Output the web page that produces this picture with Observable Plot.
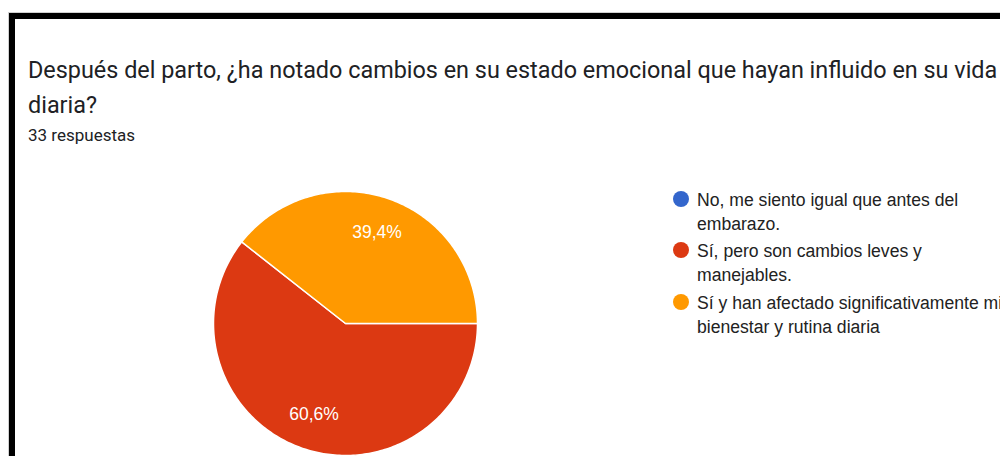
<!DOCTYPE html>
<html>
<head>
<meta charset="utf-8">
<script src="https://cdn.jsdelivr.net/npm/d3@7"></script>
<script src="https://cdn.jsdelivr.net/npm/@observablehq/plot@0.6"></script>
<style>
  html, body { margin: 0; padding: 0; background: #fff; }
  #page { position: relative; width: 1000px; height: 456px; overflow: hidden; background: #fff; }
  #frame { position: absolute; left: 9px; top: 13px; width: 1100px; height: 600px;
           border-left: 6px solid #000; border-top: 6px solid #000; box-shadow: -1px -1px 0 #d0d0d0; }
  .title { position: absolute; left: 28px; font-family: Roboto, sans-serif; font-size: 23.4px;
           line-height: 35px; color: #202124; white-space: nowrap; }
  .sub { position: absolute; left: 28px; top: 125px; font-family: Roboto, sans-serif; font-size: 17px;
         line-height: 20px; color: #202124; white-space: nowrap; }
  .leg { position: absolute; left: 697px; font-family: "Liberation Sans", Arial, sans-serif; font-size: 17.6px;
         line-height: 23.5px; color: #222; white-space: nowrap; }
  .dot { position: absolute; width: 16px; height: 16px; border-radius: 50%; }
  #pie { position: absolute; left: 213px; top: 191px; }
</style>
</head>
<body>
<div id="page">
  <div id="frame"></div>
  <div class="title" style="top:52.5px">Después del parto, ¿ha notado cambios en su estado emocional que hayan influido en su vida</div>
  <div class="title" style="top:87.5px">diaria?</div>
  <div class="sub">33 respuestas</div>
  <div id="legend"></div>
  <div id="pie"></div>
</div>
<script>
// Data
const categories = [
  "No, me siento igual que antes del embarazo.",
  "Sí, pero son cambios leves y manejables.",
  "Sí y han afectado significativamente mi bienestar y rutina diaria"
];
const legendLines = [
  ["No, me siento igual que antes del", "embarazo."],
  ["Sí, pero son cambios leves y", "manejables."],
  ["Sí y han afectado significativamente mi", "bienestar y rutina diaria"]
];
const counts = [0, 20, 13];
const colors = ["#3366cc", "#dc3912", "#ff9900"];

const total = d3.sum(counts);
const data = categories.map((c, i) => ({category: c, value: counts[i]}));

// Pie layout: start at 3 o'clock (90°), clockwise
const arcs = d3.pie().value(d => d.value).sort(null)
  .startAngle(Math.PI / 2).endAngle(Math.PI / 2 + 2 * Math.PI)(data);

const polyPoints = [];
const labelPoints = [];
for (const a of arcs) {
  if (a.endAngle - a.startAngle <= 0) continue;
  const cat = a.data.category;
  polyPoints.push({category: cat, x: 0, y: 0});
  const n = Math.max(2, Math.ceil((a.endAngle - a.startAngle) / (Math.PI / 180)));
  for (let k = 0; k <= n; k++) {
    const t = a.startAngle + (a.endAngle - a.startAngle) * k / n;
    polyPoints.push({category: cat, x: Math.sin(t), y: Math.cos(t)});
  }
  polyPoints.push({category: cat, x: 0, y: 0});
  const mid = (a.startAngle + a.endAngle) / 2;
  const pct = (a.data.value / total * 100).toFixed(1).replace(".", ",") + "%";
  labelPoints.push({category: cat, x: 0.73 * Math.sin(mid), y: 0.73 * Math.cos(mid), label: pct});
}

const R = 1.0;
const chart = Plot.plot({
  width: 264,
  height: 264,
  margin: 0,
  x: {domain: [-R, R], axis: null},
  y: {domain: [-R, R], axis: null},
  color: {domain: categories, range: colors},
  marks: [
    Plot.line(polyPoints, {x: "x", y: "y", z: "category", fill: "category",
      stroke: "#fff", strokeWidth: 1.5, strokeLinejoin: "round", curve: "linear"}),
    Plot.text(labelPoints, {x: "x", y: "y", text: "label", fill: "#fff",
      fontSize: 17.5, fontFamily: "Liberation Sans, Arial, sans-serif", textAnchor: "middle"})
  ],
  style: {background: "transparent", overflow: "visible"}
});
document.getElementById("pie").appendChild(chart);

// Legend
const legend = document.getElementById("legend");
const legendTops = [189, 240, 292];
const dotCenters = [199, 250, 302];
categories.forEach((c, i) => {
  const dot = document.createElement("div");
  dot.className = "dot";
  dot.style.background = colors[i];
  dot.style.left = (681 - 8) + "px";
  dot.style.top = (dotCenters[i] - 8) + "px";
  legend.appendChild(dot);
  const txt = document.createElement("div");
  txt.className = "leg";
  txt.style.top = legendTops[i] + "px";
  txt.innerHTML = legendLines[i].join("<br>");
  legend.appendChild(txt);
});
</script>
</body>
</html>
